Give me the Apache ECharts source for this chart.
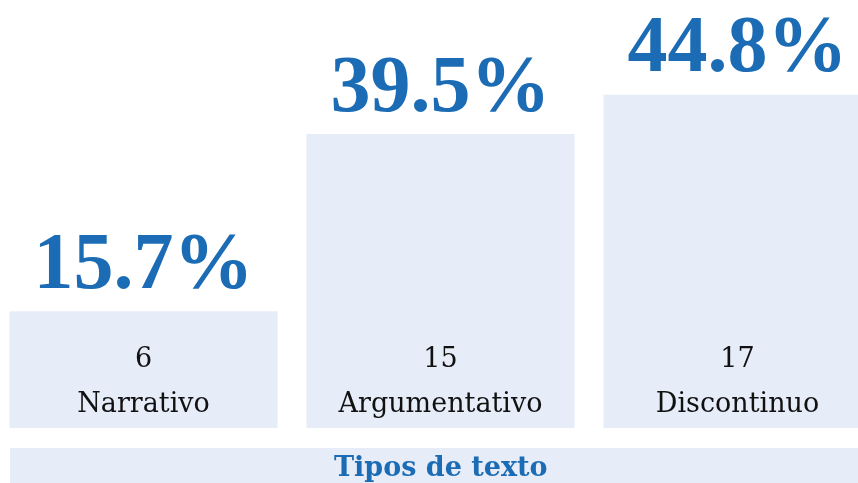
<!DOCTYPE html>
<html>
<head>
<meta charset="utf-8">
<script src="https://cdn.jsdelivr.net/npm/echarts@6/dist/echarts.min.js"></script>
<style>
  html, body { margin: 0; padding: 0; background: #fff; }
  #chart { width: 858px; height: 483px; }
</style>
</head>
<body>
<div id="chart"></div>
<script>
const categories = ['Narrativo', 'Argumentativo', 'Discontinuo'];
const percents = [15.7, 39.5, 44.8];
const counts = [6, 15, 17];
const axisTitle = 'Tipos de texto';

const barColor = '#e6ecf8';
const blue = '#1b6cb4';

const chart = echarts.init(document.getElementById('chart'));

chart.setOption({
  animation: false,
  grid: { left: -5, width: 891, top: 56, bottom: 55, outerBoundsMode: 'none', containLabel: false },
  xAxis: {
    type: 'category',
    data: categories,
    axisLine: { show: false },
    axisTick: { show: false },
    axisLabel: { show: false }
  },
  yAxis: {
    type: 'value',
    min: 0,
    max: 50,
    show: false
  },
  series: [
    {
      type: 'bar',
      data: percents,
      barWidth: 268,
      itemStyle: { color: barColor },
      label: {
        show: true,
        position: 'insideBottom',
        distance: 1,
        fontFamily: 'DejaVu Serif',
        fontSize: 27,
        lineHeight: 45,
        color: '#111',
        formatter: p => counts[p.dataIndex] + '\n' + categories[p.dataIndex]
      }
    },
    {
      type: 'bar',
      data: percents,
      barWidth: 268,
      barGap: '-100%',
      itemStyle: { color: 'transparent' },
      label: {
        show: true,
        position: 'top',
        distance: 4,
        fontFamily: 'Liberation Serif',
        fontWeight: 'bold',
        fontSize: 80,
        lineHeight: 80,
        color: blue,
        formatter: p => p.value.toFixed(1) + '%'
      }
    }
  ],
  graphic: [
    {
      type: 'rect',
      left: 10,
      top: 448,
      shape: { width: 848, height: 40 },
      style: { fill: barColor }
    },
    {
      type: 'text',
      left: 334,
      top: 455,
      style: {
        text: axisTitle,
        fontFamily: 'DejaVu Serif',
        fontWeight: 'bold',
        fontSize: 27,
        fill: blue
      }
    }
  ]
});
</script>
</body>
</html>
